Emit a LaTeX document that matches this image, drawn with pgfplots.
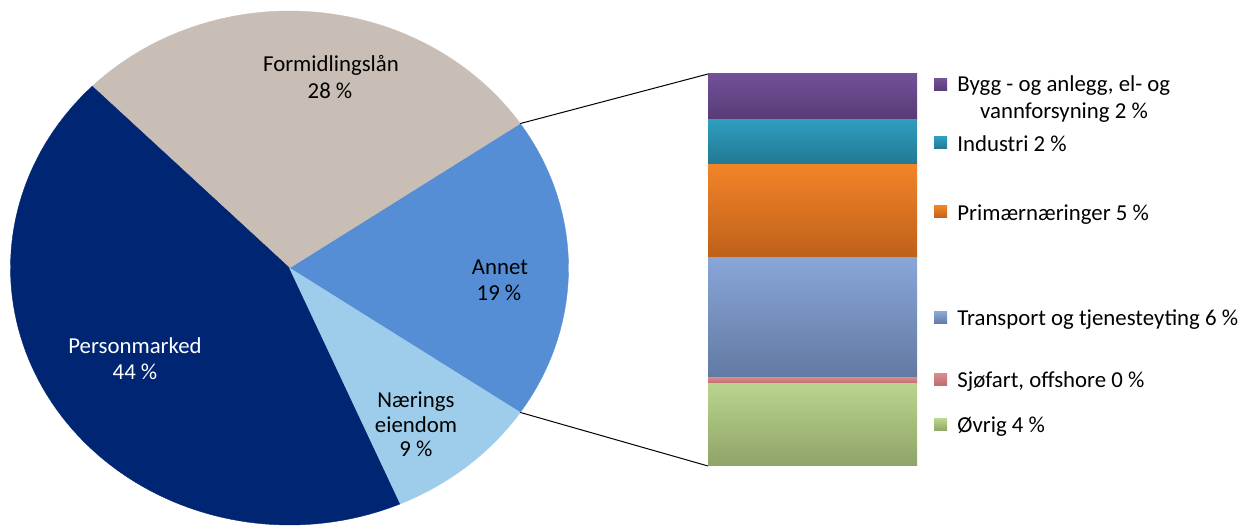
\documentclass[border=0pt]{standalone}
\usepackage{pgfplots}
\pgfplotsset{compat=1.18}
\usepackage{pgfplotstable}
\usepackage{fontspec}
\setmainfont{Carlito}

\definecolor{personc}{RGB}{0,38,115}
\definecolor{formc}{RGB}{201,190,181}
\definecolor{annetc}{RGB}{85,142,213}
\definecolor{naerc}{RGB}{158,205,235}

\definecolor{byggT}{RGB}{114,81,152}
\definecolor{byggB}{RGB}{88,58,118}
\definecolor{indT}{RGB}{47,158,192}
\definecolor{indB}{RGB}{34,120,146}
\definecolor{primT}{RGB}{242,132,40}
\definecolor{primB}{RGB}{190,96,26}
\definecolor{transT}{RGB}{137,166,216}
\definecolor{transB}{RGB}{98,122,163}
\definecolor{sjoT}{RGB}{218,138,138}
\definecolor{sjoB}{RGB}{188,108,108}
\definecolor{ovrT}{RGB}{186,212,142}
\definecolor{ovrB}{RGB}{143,164,104}

% pie shares, counter-clockwise from the lower edge of "Annet"
\pgfplotstableread{
pct col
19 annetc
28 formc
44 personc
9  naerc
}\pietable

\begin{document}
\fontsize{11.4}{13.5}\selectfont
\begin{tikzpicture}
\path[use as bounding box] (0,0) rectangle (621.5pt,264.5pt);

% ---- pie ----
\begin{axis}[at={(144.75pt,130.5pt)}, anchor=center,
  width=279pt, height=257pt, scale only axis,
  xmin=-1, xmax=1, ymin=-1, ymax=1, hide axis, clip=false]
  \pgfplotstablegetelem{0}{pct}\of\pietable
  \pgfmathsetmacro\angA{-1.8*\pgfplotsretval}
  \pgfplotsforeachungrouped \i in {0,...,3}{%
    \pgfplotstablegetelem{\i}{pct}\of\pietable
    \pgfmathsetmacro\angB{\angA+3.6*\pgfplotsretval}%
    \pgfplotstablegetelem{\i}{col}\of\pietable
    \edef\slicecmd{\noexpand\addplot[fill=\pgfplotsretval, draw=\pgfplotsretval,
      line width=0.2pt, domain=\angA:\angB, samples=90]
      ({cos(x)}, {sin(x)}) -- (axis cs:0,0) -- cycle;}%
    \slicecmd
    \let\angA\angB
  }
  \pgfplotstablegetelem{0}{pct}\of\pietable
  \pgfmathsetmacro\halfang{1.8*\pgfplotsretval}
  \coordinate (P1) at (axis cs:{cos(\halfang)},{sin(\halfang)});
  \coordinate (P2) at (axis cs:{cos(\halfang)},{-sin(\halfang)});
\end{axis}

% ---- bar of "Annet" ----
\begin{axis}[at={(354pt,31.5pt)}, anchor=south west,
  width=104.5pt, height=196pt, scale only axis,
  xmin=-0.5, xmax=0.5, ymin=0, ymax=19, enlargelimits=false,
  hide axis, ybar stacked, bar width=104.5pt, clip=false]
  \addplot[draw=none, top color=ovrT, bottom color=ovrB] coordinates {(0,4.0)};
  \addplot[draw=none, top color=sjoT, bottom color=sjoB] coordinates {(0,0.3)};
  \addplot[draw=none, top color=transT, bottom color=transB] coordinates {(0,5.8)};
  \addplot[draw=none, top color=primT, bottom color=primB] coordinates {(0,4.5)};
  \addplot[draw=none, top color=indT, bottom color=indB] coordinates {(0,2.2)};
  \addplot[draw=none, top color=byggT, bottom color=byggB] coordinates {(0,2.2)};
  \coordinate (B1) at (rel axis cs:0,1);
  \coordinate (B2) at (rel axis cs:0,0);
\end{axis}

\draw[black, line width=0.5pt] (P1) -- (B1);
\draw[black, line width=0.5pt] (P2) -- (B2);

\begin{scope}[x=0.5pt, y=0.5pt, every node/.style={inner sep=0pt, text=black}]
  % pie labels
  \node[anchor=base] at (331,457) {Formidlingslån};
  \node[anchor=base] at (330,430) {28 \%};
  \node[anchor=base] at (500,254) {Annet};
  \node[anchor=base] at (499,228) {19 \%};
  \node[anchor=base, text=white] at (135,175) {Personmarked};
  \node[anchor=base, text=white] at (135,149) {44 \%};
  \node[anchor=base] at (416,121) {Nærings};
  \node[anchor=base] at (416,96) {eiendom};
  \node[anchor=base] at (416,72) {9 \%};

  % legend keys
  \path[top color=byggT, bottom color=byggB] (934,438) rectangle (947,450);
  \path[top color=indT, bottom color=indB] (934,380) rectangle (947,392);
  \path[top color=primT, bottom color=primB] (934,311) rectangle (947,323);
  \path[top color=transT, bottom color=transB] (934,205) rectangle (947,217);
  \path[top color=sjoT, bottom color=sjoB] (934,143) rectangle (947,155);
  \path[top color=ovrT, bottom color=ovrB] (934,98) rectangle (947,110);

  % legend texts
  \node[anchor=base west] at (957,437) {Bygg - og anlegg, el- og};
  \node[anchor=base] at (1064,410) {vannforsyning 2 \%};
  \node[anchor=base west] at (957,377) {Industri 2 \%};
  \node[anchor=base west] at (957,308) {Primærnæringer 5 \%};
  \node[anchor=base west] at (957,203) {Transport og tjenesteyting 6 \%};
  \node[anchor=base west] at (957,141) {Sjøfart, offshore 0 \%};
  \node[anchor=base west] at (957,96) {Øvrig 4 \%};
\end{scope}
\end{tikzpicture}
\end{document}
